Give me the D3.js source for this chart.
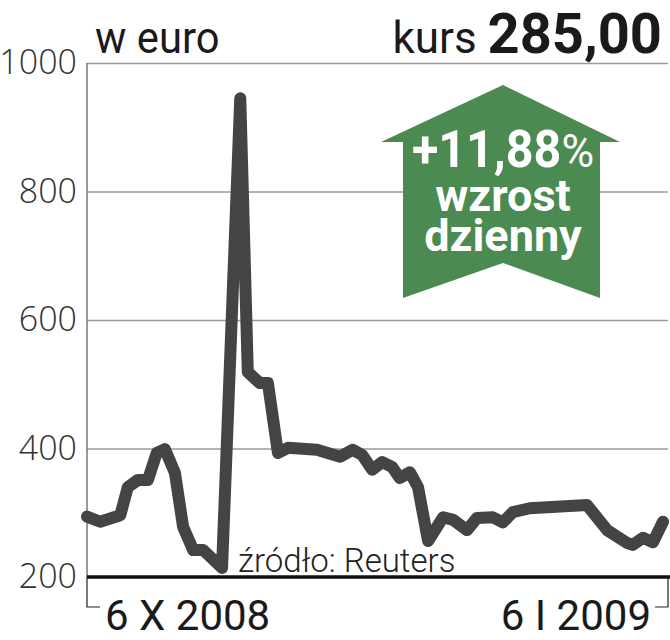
<!DOCTYPE html>
<meta charset="utf-8">
<style>
body { margin: 0; background: #fff; }
svg { font-family: Roboto, "Open Sans", sans-serif; }
.grid line { stroke: #9a9a9a; stroke-width: 1.5px; }
.grid .domain { display: none; }
.grid text { font-family: "Open Sans", Roboto, sans-serif; font-size: 34px; font-weight: 300; fill: #333; }
.price { fill: none; stroke: #444; stroke-width: 12px; stroke-linejoin: round; stroke-linecap: round; }
</style>
<svg width="670" height="640"></svg>
<script src="https://d3js.org/d3.v7.min.js"></script>
<script>

// days counted from 6 X 2008, closing price in euro
var days = [0, 2.1, 5.3, 6.5, 8.1, 9.7, 11.1, 12.4, 14.0, 15.3, 16.9, 18.5, 21.5, 24.4,
  25.6, 27.5, 28.8, 30.4, 32.0, 36.6, 40.3, 42.3, 43.8, 45.4, 47.0, 48.6, 49.8, 51.4,
  52.7, 54.3, 56.7, 58.3, 60.5, 62.1, 64.6, 66.2, 67.8, 70.5, 79.6, 82.8, 86.0, 86.9,
  88.5, 90.1, 91.7];
var values = [294, 286, 296, 340, 351, 351, 393, 399, 362, 278, 242, 242, 214, 945,
  519, 502, 502, 393, 401, 398, 387, 398, 390, 367, 379, 371, 354, 363,
  340, 256, 293, 289, 273, 292, 293, 285, 301, 307, 312, 273, 253, 250,
  261, 254, 286];
var yTicks = [200, 400, 600, 800, 1000];
var dateLabels = ["6 X 2008", "6 I 2009"];

var svg = d3.select("svg"),
    mLeft = 87, mRight = 668, mTop = 63, mBottom = 577;

var x = d3.scaleLinear().domain([0, 92.5]).range([mLeft, mRight]);
var y = d3.scaleLinear().domain([200, 1000]).range([mBottom, mTop]);

// gridlines + labels
svg.append("g")
    .attr("class", "grid")
    .attr("transform", "translate(" + mLeft + ",0)")
    .call(d3.axisLeft(y).tickValues(yTicks).tickFormat(d3.format("d"))
      .tickSize(-(mRight - mLeft)).tickPadding(10));

// vertical axis line
svg.append("line")
    .attr("x1", mLeft).attr("x2", mLeft)
    .attr("y1", mTop).attr("y2", mBottom)
    .attr("stroke", "#777").attr("stroke-width", 1.5);

// headings
svg.append("text").attr("x", 95).attr("y", 53)
    .style("font-size", "44px").style("fill", "#1a1a1a")
    .attr("transform", "translate(95,0) scale(0.95,1) translate(-95,0)")
    .text("w euro");
var kurs = svg.append("text").attr("x", 662).attr("y", 53)
    .attr("text-anchor", "end").style("fill", "#1a1a1a");
kurs.append("tspan").style("font-size", "44px").text("kurs ");
kurs.append("tspan").style("font-size", "56px").style("font-weight", 700).text("285,00");

// green arrow
var ax = 503;
var arrow = [[ax, 85], [ax + 117, 142], [ax + 97, 142], [ax + 97, 298], [ax, 263],
  [ax - 100, 298], [ax - 100, 142], [ax - 122, 142]];
svg.append("path")
    .attr("d", "M" + arrow.join("L") + "Z")
    .attr("fill", "#4b8a50");

var big = svg.append("text").attr("x", ax).attr("y", 167)
    .attr("text-anchor", "middle").style("fill", "#fff")
    .attr("transform", "translate(" + ax + ",0) scale(0.95,1) translate(" + (-ax) + ",0)");
big.append("tspan").style("font-size", "51px").style("font-weight", 700).text("+11,88");
big.append("tspan").style("font-size", "47px").style("font-weight", 400).text("%");
svg.append("text").attr("x", ax).attr("y", 211)
    .attr("text-anchor", "middle").style("fill", "#fff")
    .style("font-size", "45px").style("font-weight", 700)
    .text("wzrost");
svg.append("text").attr("x", ax).attr("y", 251)
    .attr("text-anchor", "middle").style("fill", "#fff")
    .style("font-size", "45px").style("font-weight", 700)
    .text("dzienny");

// source
svg.append("text").attr("x", 238).attr("y", 572)
    .style("font-size", "33px").style("font-weight", 300).style("fill", "#222")
    .text("źródło: Reuters");

// price line
var line = d3.line()
    .x(function(d, i) { return x(days[i]); })
    .y(function(d) { return y(d); });

svg.append("path")
    .datum(values)
    .attr("class", "price")
    .attr("d", line);

// baseline
svg.append("line")
    .attr("x1", mLeft).attr("x2", mRight + 2)
    .attr("y1", y(200)).attr("y2", y(200))
    .attr("stroke", "#111").attr("stroke-width", 3.5);

// date brackets
svg.append("path")
    .attr("d", "M" + x(0) + "," + mBottom + "V607H" + (x(0) + 13))
    .attr("fill", "none").attr("stroke", "#222").attr("stroke-width", 1.2);
svg.append("path")
    .attr("d", "M" + x(92.5) + "," + mBottom + "V607H" + (x(92.5) - 13))
    .attr("fill", "none").attr("stroke", "#222").attr("stroke-width", 1.2);

svg.append("text").attr("x", 105).attr("y", 630)
    .style("font-size", "42px").style("fill", "#1a1a1a")
    .text(dateLabels[0]);
svg.append("text").attr("x", 651).attr("y", 630)
    .attr("text-anchor", "end")
    .style("font-size", "42px").style("fill", "#1a1a1a")
    .text(dateLabels[1]);

</script>
